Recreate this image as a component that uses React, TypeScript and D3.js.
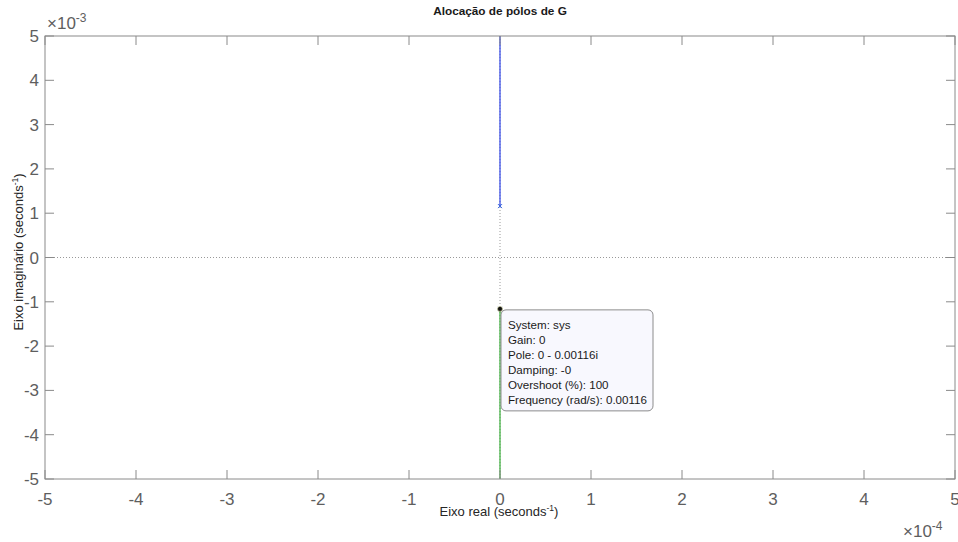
import React from 'react';
import * as d3 from 'd3';

// poles of G (seconds^-1)
const poleRe = [0, 0];
const poleIm = [0.00116, -0.00116];
// locus branches: [re, im] from pole to edge of view
const branchBlue = [[0, 0.00116], [0, 0.006]];
const branchGreen = [[0, -0.00116], [0, -0.006]];
const xTicks = [-5, -4, -3, -2, -1, 0, 1, 2, 3, 4, 5];
const yTicks = [-5, -4, -3, -2, -1, 0, 1, 2, 3, 4, 5];
const tipLines = [
  'System: sys',
  'Gain: 0',
  'Pole: 0 - 0.00116i',
  'Damping: -0',
  'Overshoot (%): 100',
  'Frequency (rad/s): 0.00116',
];

const W = 958;
const H = 542;
const margin = { top: 36, right: 3, bottom: 63, left: 45 };
const font = 'Helvetica, "Liberation Sans", Arial, sans-serif';
const axisGrey = '#8a8a8a';
const labelGrey = '#5e5e5e';

export default function App() {
  const x = d3.scaleLinear().domain([-5e-4, 5e-4]).range([margin.left, W - margin.right]);
  const y = d3.scaleLinear().domain([-5e-3, 5e-3]).range([H - margin.bottom, margin.top]);
  const [x0, x1] = x.range();
  const [y0, y1] = y.range();

  const line = d3
    .line<number[]>()
    .x(d => x(d[0]))
    .y(d => Math.max(y1, Math.min(y0, y(d[1]))));

  const tipX = x(poleRe[1]);
  const tipY = y(poleIm[1]);

  return (
    <div style={{ position: 'absolute', left: 0, top: 0 }}>
      <svg width={W} height={H} style={{ display: 'block', background: '#fff' }} fontFamily={font}>
        {/* grid at zero */}
        <line x1={x0} x2={x1} y1={y(0)} y2={y(0)} stroke="#999" strokeWidth={1} strokeDasharray="1,2" />
        <line x1={x(0)} x2={x(0)} y1={y1} y2={y0} stroke="#999" strokeWidth={1} strokeDasharray="1,2" />

        {/* branches */}
        <path d={line(branchBlue) || ''} fill="none" stroke="#3b4fe8" strokeWidth={1.3} />
        <path d={line(branchGreen) || ''} fill="none" stroke="#45b245" strokeWidth={1.3} />

        {/* pole markers */}
        {poleRe.map((re, i) => {
          const cx = x(re);
          const cy = y(poleIm[i]);
          return (
            <g key={i} stroke="#2f5fe0" strokeWidth={1}>
              <line x1={cx - 2} x2={cx + 2} y1={cy - 2} y2={cy + 2} />
              <line x1={cx - 2} x2={cx + 2} y1={cy + 2} y2={cy - 2} />
            </g>
          );
        })}

        {/* axes box */}
        <rect x={x0} y={y1} width={x1 - x0} height={y0 - y1} fill="none" stroke={axisGrey} strokeWidth={1} />
        {xTicks.map(t => (
          <g key={'x' + t}>
            <line x1={x(t * 1e-4)} x2={x(t * 1e-4)} y1={y0} y2={y0 - 9} stroke={axisGrey} />
            <line x1={x(t * 1e-4)} x2={x(t * 1e-4)} y1={y1} y2={y1 + 9} stroke={axisGrey} />
            <text x={x(t * 1e-4)} y={505} textAnchor="middle" fontSize={17} fill={labelGrey}>
              {t}
            </text>
          </g>
        ))}
        {yTicks.map(t => (
          <g key={'y' + t}>
            <line x1={x0} x2={x0 + 9} y1={y(t * 1e-3)} y2={y(t * 1e-3)} stroke={axisGrey} />
            <line x1={x1} x2={x1 - 9} y1={y(t * 1e-3)} y2={y(t * 1e-3)} stroke={axisGrey} />
            <text x={39} y={y(t * 1e-3) + 6} textAnchor="end" fontSize={17} fill={labelGrey}>
              {t}
            </text>
          </g>
        ))}

        {/* exponents */}
        <text x={47} y={29} fontSize={17} fill={labelGrey}>
          ×10<tspan dy={-7} fontSize={12}>-3</tspan>
        </text>
        <text x={903} y={537} fontSize={17} fill={labelGrey}>
          ×10<tspan dy={-7} fontSize={12}>-4</tspan>
        </text>

        {/* title and labels */}
        <text x={500} y={15} textAnchor="middle" fontSize={11.8} fontWeight="bold" fill="#1a1a1a">
          Alocação de pólos de G
        </text>
        <text x={499} y={516} textAnchor="middle" fontSize={13} fill="#262626">
          Eixo real (seconds<tspan dy={-5} fontSize={8.5}>-1</tspan><tspan dy={5}>)</tspan>
        </text>
        <text transform={`translate(23,252) rotate(-90)`} textAnchor="middle" fontSize={13} fill="#262626">
          Eixo imaginário (seconds<tspan dy={-5} fontSize={8.5}>-1</tspan><tspan dy={5}>)</tspan>
        </text>

        {/* data tip */}
        <rect x={tipX + 1} y={tipY + 1} width={152} height={101} rx={5} fill="#f8f8fe" stroke="#8c8c8c" strokeWidth={1} />
        {tipLines.map((s, i) => (
          <text key={i} x={tipX + 8} y={tipY + 20 + i * 15} fontSize={11.6} fill="#1a1a1a">
            {s}
          </text>
        ))}
        <circle cx={tipX} cy={tipY} r={2.5} fill="#111" stroke="#d8d8a0" strokeWidth={0.6} />
      </svg>
    </div>
  );
}
